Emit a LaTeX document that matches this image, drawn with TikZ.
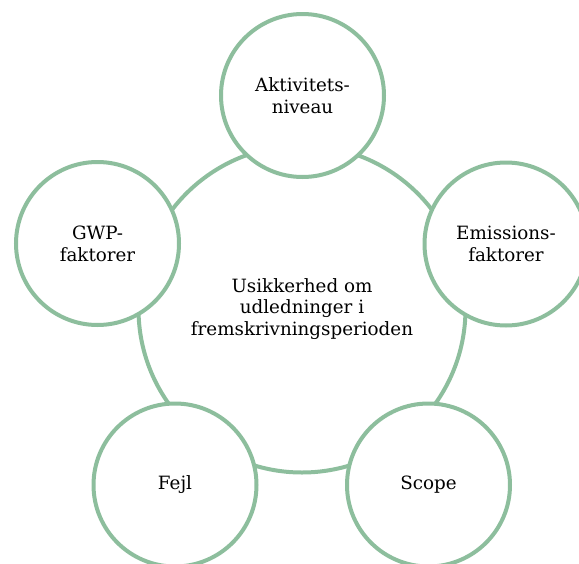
\documentclass[tikz,border=0pt]{standalone}
\usepackage{fontspec}
\setmainfont{DejaVu Serif}
\definecolor{ring}{RGB}{141,190,157}
\begin{document}
\begin{tikzpicture}[x=1pt,y=-1pt,
  bigc/.style={circle,draw=ring,line width=4pt,fill=white,minimum size=327pt,inner sep=0pt,align=center,font=\fontsize{18.3}{21.5}\selectfont},
  smallc/.style={circle,draw=ring,line width=4pt,fill=white,minimum size=163pt,inner sep=0pt,align=center,font=\fontsize{18.3}{22}\selectfont}]
\useasboundingbox (0,0) rectangle (579,563);
\node[bigc] (c) at (302,309) {Usikkerhed om\\udledninger i\\fremskrivningsperioden};
\node[smallc] (a) at (302.5,95.5) {Aktivitets-\\niveau};
\node[smallc] (e) at (506,244) {Emissions-\\faktorer};
\node[smallc] (s) at (428.5,485) {Scope};
\node[smallc] (f) at (175,485) {Fejl};
\node[smallc] (g) at (97.5,243.5) {GWP-\\faktorer};
\end{tikzpicture}
\end{document}
